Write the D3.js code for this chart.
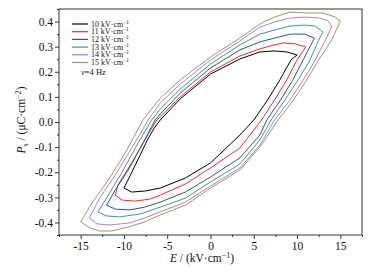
<!DOCTYPE html>
<html>
<head>
<meta charset="utf-8">
<script src="https://cdn.jsdelivr.net/npm/d3@7"></script>
<style>
  body { margin: 0; background: #fff; }
  text { font-family: "Liberation Serif", "Times New Roman", serif; }
</style>
</head>
<body>
<div id="chart"></div>
<script>
// field amplitudes (kV/cm) and one closed P-E loop per field: [E, Ps]
const fields = [10, 11, 12, 13, 14, 15];
const loop10 = [[10, 0.267], [8.8, 0.279], [7.4, 0.283], [5.7, 0.279], [3.4, 0.251], [0, 0.191], [-3.5, 0.092], [-5.8, 0.008], [-6.5, -0.024], [-7.3, -0.072], [-8.4, -0.151], [-9.3, -0.215], [-10, -0.263], [-9.1, -0.279], [-7.6, -0.275], [-5.8, -0.263], [-2.9, -0.223], [0, -0.163], [3.4, -0.052], [5.0, 0.008], [6.6, 0.088], [8.0, 0.167], [9.3, 0.247]];
const loop11 = [[11, 0.299], [9.8, 0.311], [8.4, 0.315], [6.9, 0.303], [5.7, 0.291], [3.4, 0.263], [0, 0.199], [-3.5, 0.100], [-5.8, 0.020], [-6.2, 0.008], [-7.6, -0.072], [-9.1, -0.163], [-10.7, -0.251], [-11, -0.291], [-10.2, -0.311], [-8.7, -0.315], [-7.0, -0.307], [-5.8, -0.291], [-2.9, -0.247], [0, -0.183], [3.4, -0.104], [5.9, 0.008], [7.4, 0.088], [8.8, 0.167], [10.0, 0.247]];
const loop12 = [[12, 0.334], [10.9, 0.350], [9.2, 0.350], [7.4, 0.334], [5.7, 0.319], [3.4, 0.287], [0, 0.215], [-3.5, 0.115], [-5.8, 0.032], [-6.4, 0.008], [-8.1, -0.104], [-9.5, -0.191], [-11.0, -0.271], [-12, -0.331], [-11.0, -0.347], [-9.3, -0.350], [-7.6, -0.339], [-5.8, -0.319], [-2.9, -0.279], [0, -0.219], [3.4, -0.143], [5.7, -0.052], [6.5, 0.008], [8.1, 0.088], [9.5, 0.167], [10.7, 0.247]];
const loop13 = [[13, 0.358], [12.1, 0.382], [10.9, 0.386], [9.2, 0.382], [7.4, 0.366], [5.7, 0.350], [3.4, 0.307], [0, 0.231], [-3.5, 0.131], [-5.8, 0.052], [-6.8, 0.008], [-8.5, -0.092], [-10.2, -0.199], [-11.8, -0.291], [-13, -0.358], [-12.0, -0.374], [-10.5, -0.378], [-8.1, -0.366], [-5.8, -0.339], [-2.9, -0.303], [0, -0.239], [3.4, -0.167], [5.7, -0.072], [7.0, 0.008], [8.6, 0.088], [10.1, 0.167], [11.5, 0.247], [12.5, 0.327]];
const loop14 = [[14, 0.382], [13.6, 0.402], [12.6, 0.414], [10.9, 0.418], [9.2, 0.414], [7.4, 0.398], [5.7, 0.378], [3.4, 0.323], [0, 0.247], [-3.5, 0.151], [-5.8, 0.076], [-7.2, 0.008], [-9.1, -0.104], [-11.0, -0.211], [-12.8, -0.303], [-14, -0.382], [-13.1, -0.406], [-11.6, -0.410], [-9.3, -0.402], [-7.6, -0.382], [-5.8, -0.358], [-2.9, -0.319], [0, -0.255], [3.4, -0.183], [5.7, -0.092], [7.4, 0.008], [9.2, 0.088], [10.7, 0.167], [12.1, 0.247], [13.3, 0.327]];
const loop15 = [[15, 0.402], [14.4, 0.418], [13.0, 0.434], [11.1, 0.434], [9.2, 0.438], [7.4, 0.418], [5.7, 0.390], [3.4, 0.334], [0, 0.259], [-3.5, 0.167], [-5.8, 0.096], [-7.8, 0.008], [-9.8, -0.120], [-11.8, -0.231], [-13.7, -0.323], [-15, -0.398], [-13.9, -0.422], [-12.8, -0.434], [-11.4, -0.434], [-9.5, -0.418], [-7.6, -0.398], [-5.8, -0.370], [-2.9, -0.331], [0, -0.263], [3.4, -0.191], [5.7, -0.100], [7.8, 0.008], [9.6, 0.088], [11.1, 0.167], [12.5, 0.247], [14.0, 0.327]];
const loops = [loop10, loop11, loop12, loop13, loop14, loop15];
const colors = ["#000000", "#e8302a", "#33509e", "#3c9a8a", "#b580c2", "#9c9866"];

const xTicks = [-15, -10, -5, 0, 5, 10, 15];
const xMinor = [-17.5, -12.5, -7.5, -2.5, 2.5, 7.5, 12.5, 17.5];
const yTicks = [-0.4, -0.3, -0.2, -0.1, 0.0, 0.1, 0.2, 0.3, 0.4];
const yMinor = [-0.45, -0.35, -0.25, -0.15, -0.05, 0.05, 0.15, 0.25, 0.35, 0.45];

const W = 378, H = 268;
const margin = { top: 9, right: 16, bottom: 33, left: 59 };
const width = W - margin.left - margin.right;
const height = H - margin.top - margin.bottom;

const svg = d3.select("#chart").append("svg")
  .attr("width", W)
  .attr("height", H);

const root = svg.append("g").attr("transform", `translate(${margin.left},${margin.top})`);

const x = d3.scaleLinear().domain([-17.5, 17.5]).range([0, width]);
const y = d3.scaleLinear().domain([-0.45, 0.45]).range([height, 0]);

const axisColor = "#333";

// axes
const xAxis = root.append("g")
  .attr("transform", `translate(0,${height})`)
  .call(d3.axisBottom(x).tickValues(xTicks).tickSize(4).tickPadding(3).tickFormat(d => String(d)));
root.append("g")
  .attr("transform", `translate(0,${height})`)
  .call(d3.axisBottom(x).tickValues(xMinor).tickSize(2).tickFormat(""));

const yAxis = root.append("g")
  .call(d3.axisLeft(y).tickValues(yTicks).tickSize(4).tickPadding(2).tickFormat(d => d.toFixed(1)));
root.append("g")
  .call(d3.axisLeft(y).tickValues(yMinor).tickSize(2).tickFormat(""));

root.selectAll(".domain").remove();
root.selectAll(".tick line").attr("stroke", axisColor);
root.selectAll(".tick text")
  .attr("fill", "#111")
  .attr("font-size", "11.5px")
  .style("font-family", "'Liberation Serif', serif");

// frame
root.append("rect")
  .attr("width", width)
  .attr("height", height)
  .attr("fill", "none")
  .attr("stroke", axisColor)
  .attr("stroke-width", 1);

// loops
const line = d3.line()
  .x(d => x(d[0]))
  .y(d => y(d[1]))
  .curve(d3.curveLinearClosed);

root.append("g").selectAll("path")
  .data(loops)
  .join("path")
  .attr("d", line)
  .attr("fill", "none")
  .attr("stroke", (d, i) => colors[i])
  .attr("stroke-width", 1);

// legend
const legend = root.append("g").attr("transform", "translate(13,15)");
const item = legend.selectAll("g")
  .data(fields)
  .join("g")
  .attr("transform", (d, i) => `translate(0,${i * 7.7})`);
item.append("line")
  .attr("x1", 0).attr("x2", 16)
  .attr("stroke", (d, i) => colors[i])
  .attr("stroke-width", 1.2);
const lt = item.append("text")
  .attr("x", 19)
  .attr("y", 2.5)
  .attr("font-size", "8px")
  .attr("fill", "#111");
lt.append("tspan").text(d => `${d} kV·cm`);
lt.append("tspan").attr("font-size", "5.5px").attr("dy", -3).text("−1");

const freq = legend.append("text")
  .attr("x", 9)
  .attr("y", 6 * 7.7 + 5)
  .attr("font-size", "8.5px")
  .attr("fill", "#111");
freq.append("tspan").attr("font-style", "italic").text("ν");
freq.append("tspan").text("=4 Hz");

// axis titles
const xt = svg.append("text")
  .attr("x", 202)
  .attr("y", 262)
  .attr("text-anchor", "middle")
  .attr("font-size", "11.5px")
  .attr("fill", "#111");
xt.append("tspan").attr("font-style", "italic").text("E");
xt.append("tspan").text(" / (kV·cm");
xt.append("tspan").attr("font-size", "8px").attr("dy", -4).text("−1");
xt.append("tspan").attr("dy", 4).text(")");

const yt = svg.append("text")
  .attr("transform", "translate(25,120) rotate(-90)")
  .attr("text-anchor", "middle")
  .attr("font-size", "11.5px")
  .attr("fill", "#111");
yt.append("tspan").attr("font-style", "italic").text("P");
yt.append("tspan").attr("font-size", "8px").attr("dy", 3).text("s");
yt.append("tspan").attr("dy", -3).text(" / (μC·cm");
yt.append("tspan").attr("font-size", "8px").attr("dy", -4).text("−2");
yt.append("tspan").attr("dy", 4).text(")");
</script>
</body>
</html>
